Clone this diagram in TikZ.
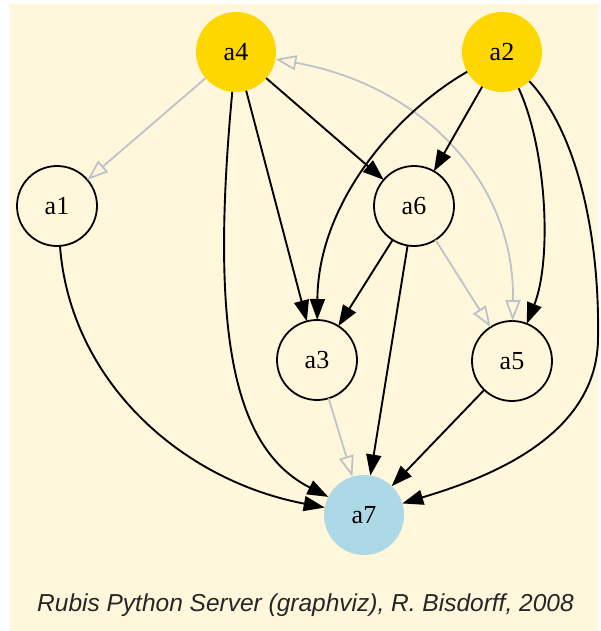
\documentclass[tikz,border=0pt]{standalone}
\usepackage{fontspec}
\setmainfont{Liberation Serif}
\newfontfamily\capfont{Liberation Sans}
\usetikzlibrary{arrows.meta}
\definecolor{bgcream}{HTML}{FFF7DC}
\definecolor{nodegold}{HTML}{FFD700}
\definecolor{nodeblue}{HTML}{ADD8E6}
\definecolor{edgegray}{HTML}{BEC2C9}
\begin{document}
\begin{tikzpicture}[x=1pt,y=-1pt,
  vert/.style={circle, minimum size=80pt, inner sep=0pt, outer sep=0pt,
    font=\fontsize{26}{26}\selectfont, line width=1.8pt},
  plainvert/.style={vert, draw=black},
  srcvert/.style={vert, fill=nodegold},
  sinkvert/.style={vert, fill=nodeblue},
  posedge/.style={draw=black, line width=1.9pt, -{Triangle[length=21pt,width=15pt]}},
  negedge/.style={draw=edgegray, line width=1.8pt, -{Triangle[open,length=21pt,width=15pt]}},
  bothedge/.style={draw=edgegray, line width=1.8pt,
    {Triangle[open,length=21pt,width=15pt]}-{Triangle[open,length=21pt,width=15pt]}},
]
\fill[white] (0,0) rectangle (598,631);
\fill[bgcream] (10,4) rectangle (598,631);

\node[srcvert] (a4) at (236,52) {a4};
\node[srcvert] (a2) at (502,52) {a2};
\node[plainvert] (a1) at (57,206) {a1};
\node[plainvert] (a6) at (414,206) {a6};
\node[plainvert] (a3) at (317,360) {a3};
\node[plainvert] (a5) at (512,361) {a5};
\node[sinkvert] (a7) at (364,515) {a7};

% gray (open) edges
\draw[negedge] (a4) -- (a1);
\draw[bothedge] (a4) .. controls (420,85) and (515,180) .. (a5);
\draw[negedge] (a6) -- (a5);
\draw[negedge] (a3) -- (a7);

% black edges
\draw[posedge] (a4) -- (a6);
\draw[posedge] (a4) -- (a3);
\draw[posedge] (a4) .. controls (210,330) and (232,448) .. (a7);
\draw[posedge] (a2) -- (a6);
\draw[posedge] (a2) .. controls (400,110) and (318,200) .. (a3);
\draw[posedge] (a2) .. controls (547,150) and (552,260) .. (a5);
\draw[posedge] (a2) .. controls (575,130) and (600,230) .. (598,340)
  .. controls (596,440) and (480,480) .. (a7);
\draw[posedge] (a6) -- (a3);
\draw[posedge] (a6) -- (a7);
\draw[posedge] (a5) -- (a7);
\draw[posedge] (a1) .. controls (70,380) and (180,480) .. (a7);

\node[anchor=base west, inner sep=0pt, text=black!85,
  font=\capfont\itshape\fontsize{24.5}{24.5}\selectfont] (cap) at (37,611)
  {Rubis Python Server (graphviz), R. Bisdorff, 2008};
\end{tikzpicture}
\end{document}
